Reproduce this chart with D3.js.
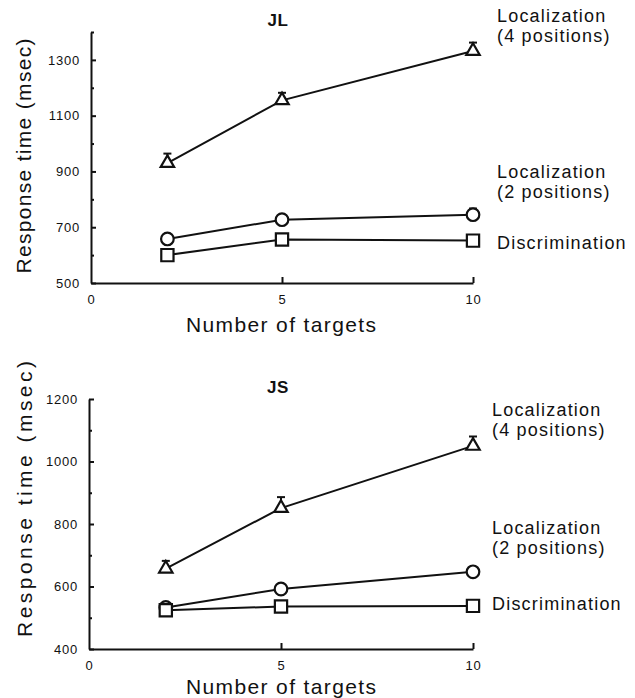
<!DOCTYPE html>
<html lang="en">

<head>
    <meta charset="UTF-8">
    <title>Response time vs number of targets</title>
    <script src="https://cdn.jsdelivr.net/npm/d3@7"></script>
    <style>
        body {
            margin: 0;
            background: #fff;
        }

        svg text {
            font-family: "Liberation Sans", Arial, Helvetica, sans-serif;
            fill: #111;
        }

        .axis path,
        .axis line {
            stroke: #111;
            stroke-width: 2px;
        }

        .axis text {
            font-size: 13px;
            letter-spacing: 0.8px;
        }

        .series {
            fill: none;
            stroke: #111;
            stroke-width: 2px;
        }

        .marker {
            fill: #fff;
            stroke: #111;
            stroke-width: 2.2px;
        }

        .err {
            stroke: #111;
            stroke-width: 2px;
        }
    </style>
</head>

<body>
    <div id="chartArea"></div>
    <script>
        // x values shared by both panels
        const targets = [2, 5, 10];
        const xTicks = [0, 5, 10];

        // subject JL
        const jlLoc4 = [930, 1155, 1332];
        const jlLoc4Err = [34, 27, 30];
        const jlLoc2 = [658, 727, 745];
        const jlLoc2Err = [8, 8, 22];
        const jlDisc = [600, 656, 652];
        const jlDiscErr = [6, 6, 6];
        const jlTicks = [500, 700, 900, 1100, 1300];
        const jlMinor = [600, 800, 1000, 1200, 1400];

        // subject JS
        const jsLoc4 = [657, 851, 1050];
        const jsLoc4Err = [25, 35, 30];
        const jsLoc2 = [533, 592, 647];
        const jsLoc2Err = [6, 8, 8];
        const jsDisc = [524, 536, 538];
        const jsDiscErr = [5, 5, 5];
        const jsTicks = [400, 600, 800, 1000, 1200];
        const jsMinor = [500, 700, 900, 1100];

        const seriesNames = ['Localization\n(4 positions)', 'Localization\n(2 positions)', 'Discrimination'];

        const W = 635, H = 698;
        const svg = d3.select('#chartArea').append('svg')
            .attr('width', W)
            .attr('height', H);

        const panels = [
            {
                title: 'JL', titleY: 26,
                yDomain: [500, 1400], yRange: [283, 32], xRange: [91, 473],
                ticks: jlTicks, minor: jlMinor,
                series: [
                    { v: jlLoc4, e: jlLoc4Err, sym: d3.symbolTriangle, size: 78, label: seriesNames[0], lx: 497, ly: 42 },
                    { v: jlLoc2, e: jlLoc2Err, sym: d3.symbolCircle, size: 125, label: seriesNames[1], lx: 497, ly: 198 },
                    { v: jlDisc, e: jlDiscErr, sym: d3.symbolSquare, size: 150, label: seriesNames[2], lx: 497, ly: 249 }
                ],
                yTitleX: 31, yTitleY: 156, yTitleLen: 235, xTitleY: 332
            },
            {
                title: 'JS', titleY: 393,
                yDomain: [400, 1200], yRange: [649, 399], xRange: [89, 473],
                ticks: jsTicks, minor: jsMinor,
                series: [
                    { v: jsLoc4, e: jsLoc4Err, sym: d3.symbolTriangle, size: 78, label: seriesNames[0], lx: 492, ly: 436 },
                    { v: jsLoc2, e: jsLoc2Err, sym: d3.symbolCircle, size: 125, label: seriesNames[1], lx: 492, ly: 554 },
                    { v: jsDisc, e: jsDiscErr, sym: d3.symbolSquare, size: 150, label: seriesNames[2], lx: 492, ly: 610 }
                ],
                yTitleX: 32, yTitleY: 499, yTitleLen: 276, xTitleY: 694
            }
        ];

        panels.forEach(p => {
            const x = d3.scaleLinear().domain([0, 10]).range(p.xRange);
            const y = d3.scaleLinear().domain(p.yDomain).range(p.yRange);
            const g = svg.append('g');

            // axes, ticks pointing inward
            g.append('g')
                .attr('class', 'axis')
                .attr('transform', `translate(${p.xRange[0]},0)`)
                .call(d3.axisLeft(y).tickValues(p.ticks).tickFormat(d3.format('d'))
                    .tickSizeInner(-5).tickSizeOuter(0).tickPadding(11));

            g.append('g')
                .attr('class', 'axis')
                .attr('transform', `translate(${p.xRange[0]},0)`)
                .call(d3.axisLeft(y).tickValues(p.minor).tickSizeInner(-3).tickSizeOuter(0).tickFormat(''))
                .call(a => a.select('.domain').remove());

            g.append('g')
                .attr('class', 'axis')
                .attr('transform', `translate(0,${p.yRange[0]})`)
                .call(d3.axisBottom(x).tickValues(xTicks).tickSizeInner(-6).tickSizeOuter(0).tickPadding(12))
                .call(a => a.selectAll('.tick').filter(d => d === 0).select('line').remove());

            g.selectAll('.axis text').attr('font-family', null).attr('font-size', null);

            // panel title
            g.append('text')
                .attr('x', 278).attr('y', p.titleY)
                .attr('text-anchor', 'middle')
                .style('font-size', '17px').style('font-weight', 'bold').style('letter-spacing', '0.5px')
                .text(p.title);

            // axis titles
            g.append('text')
                .attr('transform', `translate(${p.yTitleX},${p.yTitleY}) rotate(-90)`)
                .attr('text-anchor', 'middle')
                .attr('textLength', p.yTitleLen).attr('lengthAdjust', 'spacing')
                .style('font-size', '21px')
                .text('Response time (msec)');

            g.append('text')
                .attr('x', 281).attr('y', p.xTitleY)
                .attr('text-anchor', 'middle')
                .attr('textLength', 190).attr('lengthAdjust', 'spacing')
                .style('font-size', '21px')
                .text('Number of targets');

            const line = d3.line().x(d => x(d[0])).y(d => y(d[1]));

            p.series.forEach(s => {
                const pts = targets.map((t, i) => [t, s.v[i], s.e[i]]);

                g.append('path').attr('class', 'series').attr('d', line(pts));

                // upper error bars with cap
                const eb = g.selectAll(null).data(pts).enter().append('g');
                eb.append('line').attr('class', 'err')
                    .attr('x1', d => x(d[0])).attr('x2', d => x(d[0]))
                    .attr('y1', d => y(d[1] + d[2])).attr('y2', d => y(d[1]));
                eb.append('line').attr('class', 'err')
                    .attr('x1', d => x(d[0]) - 4).attr('x2', d => x(d[0]) + 4)
                    .attr('y1', d => y(d[1] + d[2])).attr('y2', d => y(d[1] + d[2]));

                g.selectAll(null).data(pts).enter().append('path')
                    .attr('class', 'marker')
                    .attr('transform', d => `translate(${x(d[0])},${y(d[1])})`)
                    .attr('d', d3.symbol().type(s.sym).size(s.size));

                // series label next to last point
                const lines = s.label.split('\n');
                const t = g.append('text')
                    .attr('x', s.lx).attr('y', s.ly - (lines.length - 1) * 20)
                    .style('font-size', '18px').style('letter-spacing', '1.2px');
                lines.forEach((l, i) => {
                    t.append('tspan').attr('x', s.lx).attr('dy', i === 0 ? 0 : 20).text(l);
                });
            });
        });
    </script>
</body>

</html>
